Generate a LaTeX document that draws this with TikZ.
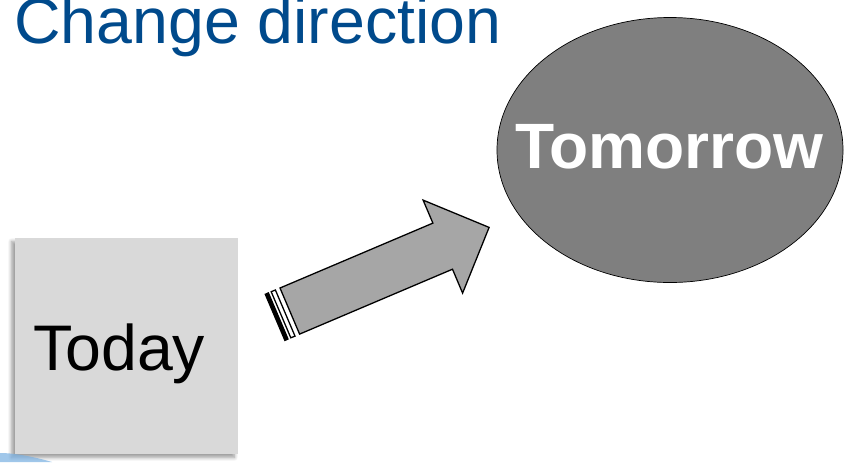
\documentclass[tikz,border=0pt]{standalone}
\usepackage{fontspec}
\setmainfont{Liberation Sans}
\usepackage{tikz}
\usetikzlibrary{arrows,backgrounds,shadows,shadows.blur,positioning,shapes.geometric}
\pgfdeclarelayer{edgelayer}
\pgfdeclarelayer{nodelayer}
\pgfsetlayers{nodelayer,main,edgelayer}
\definecolor{titleblue}{RGB}{0,74,140}
\definecolor{boxgrey}{RGB}{217,217,217}
\definecolor{arrowgrey}{RGB}{166,166,166}
\definecolor{ovalgrey}{RGB}{127,127,127}
\definecolor{swooshblue}{RGB}{120,175,225}

\begin{document}
\begin{tikzpicture}[x=0.03cm, y=-0.03cm, align=left, inner sep=0pt]
	\useasboundingbox (0,0) rectangle (854,462);
	\begin{pgfonlayer}{nodelayer}
		\node [font={\fontsize{55}{60}\selectfont}, text=titleblue, anchor=base west] (0) at (14,43) {Change direction};
		\node [rectangle, fill=boxgrey, minimum width=6.69cm, minimum height=6.48cm, blur shadow={shadow xshift=-3pt, shadow yshift=-3pt, shadow blur steps=8, shadow blur radius=3pt, shadow opacity=40}] (1) at (126.5,346) {};
		\node [font={\fontsize{55}{60}\selectfont}, anchor=base west] (2) at (33,370) {Today};
		\node [ellipse, draw=black, semithick, fill=ovalgrey, minimum width=10.38cm, minimum height=7.95cm] (3) at (670,150) {};
		\node [font={\bfseries\fontsize{54.7}{60}\selectfont}, text=white, anchor=base] (4) at (669.5,168) {Tomorrow};
		\node [] (10) at (280,288) {};
		\node [] (11) at (432.9,223.1) {};
		\node [] (12) at (423.1,200.1) {};
		\node [] (13) at (489.1,227.4) {};
		\node [] (14) at (462.6,293.1) {};
		\node [] (15) at (452.5,269.2) {};
		\node [] (16) at (299.6,334.1) {};
		\node [] (17) at (265.3,294.3) {};
		\node [] (18) at (268.4,292.9) {};
		\node [] (19) at (288.0,339.0) {};
		\node [] (20) at (284.9,340.4) {};
		\node [] (21) at (271.2,291.7) {};
		\node [] (22) at (275.4,290.0) {};
		\node [] (23) at (295.0,336.1) {};
		\node [] (24) at (290.8,337.8) {};
	\end{pgfonlayer}
	\begin{pgfonlayer}{edgelayer}
		\draw [fill=arrowgrey, line width=1.1pt, line join=miter] (10.center) -- (11.center) -- (12.center) -- (13.center) -- (14.center) -- (15.center) -- (16.center) -- cycle;
		\draw [fill=black, line width=1.1pt] (17.center) -- (18.center) -- (19.center) -- (20.center) -- cycle;
		\draw [fill=white, line width=1.1pt] (21.center) -- (22.center) -- (23.center) -- (24.center) -- cycle;
		\fill [swooshblue, opacity=0.7] (0,453) .. controls (15,453) and (35,457) .. (52,462) -- (0,462) -- cycle;
	\end{pgfonlayer}
\end{tikzpicture}
\end{document}
